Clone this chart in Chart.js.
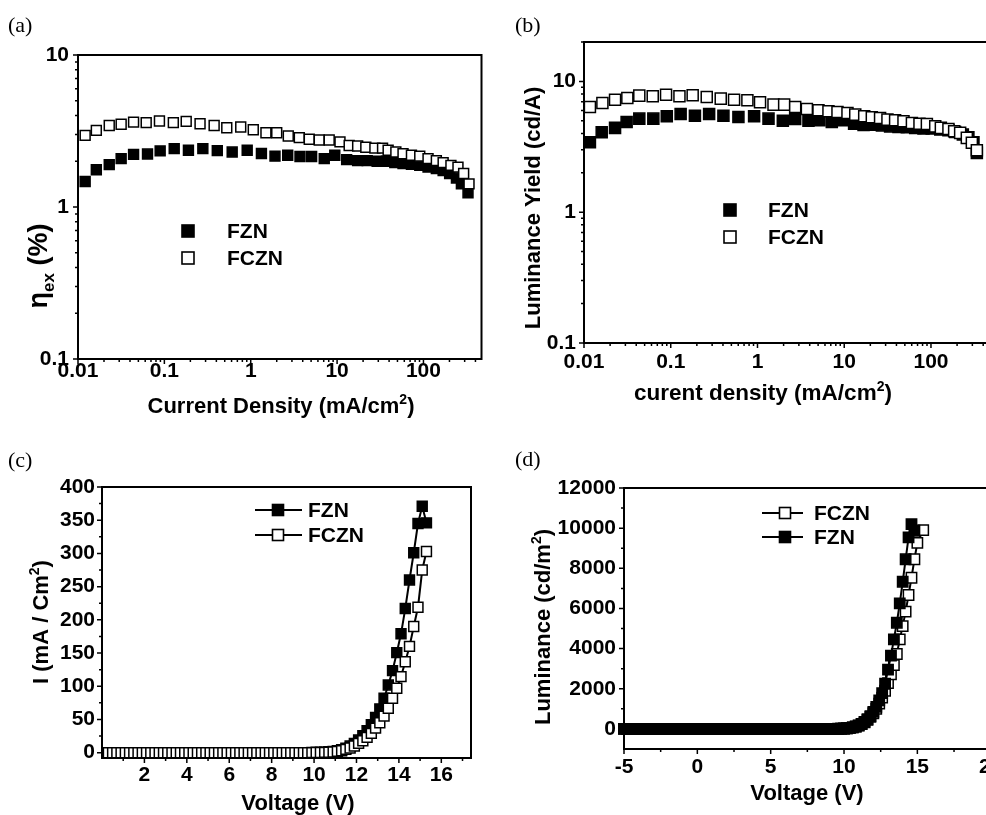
<!DOCTYPE html>
<html>
<head>
<meta charset="utf-8">
<title>FZN / FCZN device characteristics</title>
<script src="https://cdn.jsdelivr.net/npm/chart.js@4.4.1/dist/chart.umd.min.js"></script>
<style>
  html, body { margin: 0; padding: 0; background: #fff; width: 986px; height: 815px; overflow: hidden; }
  body { position: relative; }
  canvas { position: absolute; }
</style>
</head>
<body>
<canvas id="cA" width="490" height="430" style="left:0;top:0"></canvas>
<canvas id="cB" width="520" height="430" style="left:490px;top:0"></canvas>
<canvas id="cC" width="490" height="385" style="left:0;top:430px"></canvas>
<canvas id="cD" width="530" height="385" style="left:490px;top:430px"></canvas>
<script>
// --- series names ---
const seriesNames = ['FZN', 'FCZN'];

// --- (a) external efficiency vs current density ---
const densA_FZN = [0.0121, 0.0163, 0.023, 0.0316, 0.044, 0.0638, 0.0894, 0.13, 0.19, 0.279,
  0.41, 0.61, 0.91, 1.33, 1.91, 2.68, 3.72, 5.07, 7.1, 9.4,
  12.9, 17.3, 22.3, 29.1, 37.3, 46.6, 58, 72.6, 90.6, 113,
  141, 169, 201, 241, 275, 328];
const etaA_FZN = [1.47, 1.76, 1.90, 2.08, 2.22, 2.23, 2.34, 2.42, 2.36, 2.42,
  2.35, 2.30, 2.36, 2.25, 2.16, 2.19, 2.15, 2.15, 2.08, 2.19,
  2.05, 2.02, 2.02, 2.0, 2.0, 1.96, 1.93, 1.91, 1.88, 1.83,
  1.79, 1.74, 1.66, 1.55, 1.42, 1.24];
const densA_FCZN = [0.0121, 0.0163, 0.023, 0.0316, 0.044, 0.0616, 0.0877, 0.127, 0.179, 0.259,
  0.377, 0.528, 0.766, 1.07, 1.5, 2.0, 2.72, 3.65, 4.76, 6.21,
  8.1, 10.8, 13.8, 17.3, 21.5, 27.4, 33.6, 39, 47.9, 58,
  72.6, 90.6, 113, 141, 169, 208, 251, 292, 337];
const etaA_FCZN = [2.96, 3.19, 3.44, 3.50, 3.62, 3.59, 3.68, 3.59, 3.66, 3.53,
  3.44, 3.32, 3.36, 3.22, 3.08, 3.08, 2.93, 2.86, 2.79, 2.76,
  2.76, 2.68, 2.54, 2.52, 2.47, 2.44, 2.44, 2.36, 2.30, 2.24,
  2.19, 2.16, 2.08, 2.02, 1.96, 1.88, 1.83, 1.66, 1.42];

// --- (b) luminance yield vs current density ---
const densB_FZN = [0.0117, 0.016, 0.0228, 0.031, 0.0434, 0.063, 0.09, 0.13, 0.19, 0.277,
  0.405, 0.603, 0.914, 1.34, 1.96, 2.72, 3.87, 5.18, 7.19, 9.8,
  13, 16.7, 21.4, 27.2, 33.8, 42.2, 52.7, 65.8, 82, 102,
  128, 159, 190, 233, 270, 309, 338];
const yieldB_FZN = [3.42, 4.08, 4.41, 4.9, 5.19, 5.19, 5.41, 5.64, 5.47, 5.64,
  5.47, 5.35, 5.41, 5.19, 5.01, 5.16, 5.01, 5.04, 4.9, 5.04,
  4.75, 4.65, 4.67, 4.61, 4.53, 4.48, 4.46, 4.41, 4.36, 4.36,
  4.28, 4.23, 4.11, 3.92, 3.74, 3.42, 2.84];
const densB_FCZN = [0.0117, 0.0163, 0.0228, 0.0316, 0.0434, 0.062, 0.0883, 0.126, 0.179, 0.26,
  0.377, 0.537, 0.765, 1.07, 1.53, 2.03, 2.72, 3.71, 5.05, 6.58,
  8.36, 10.9, 13.4, 17, 20.8, 25.9, 31.5, 38.6, 48.2, 60.3,
  73.7, 89.7, 112, 130, 159, 185, 217, 259, 296, 338];
const yieldB_FCZN = [6.38, 6.84, 7.25, 7.46, 7.78, 7.69, 7.91, 7.69, 7.82, 7.6,
  7.38, 7.25, 7.16, 6.92, 6.64, 6.64, 6.38, 6.15, 6.01, 5.9,
  5.84, 5.74, 5.57, 5.41, 5.31, 5.25, 5.1, 5.04, 4.95, 4.81,
  4.75, 4.73, 4.53, 4.41, 4.33, 4.15, 4.04, 3.7, 3.39, 2.97];

// --- (c) current density vs voltage ---
const voltC = [0.3, 0.5, 0.7, 0.9, 1.1, 1.3, 1.5, 1.7, 1.9, 2.1,
  2.3, 2.5, 2.7, 2.9, 3.1, 3.3, 3.5, 3.7, 3.9, 4.1,
  4.3, 4.5, 4.7, 4.9, 5.1, 5.3, 5.5, 5.7, 5.9, 6.1,
  6.3, 6.5, 6.7, 6.9, 7.1, 7.3, 7.5, 7.7, 7.9, 8.1,
  8.3, 8.5, 8.7, 8.9, 9.1, 9.3, 9.5, 9.7, 9.9, 10.1,
  10.3, 10.5, 10.7, 10.9, 11.1, 11.3, 11.5, 11.7, 11.9, 12.1,
  12.3, 12.5, 12.7, 12.9, 13.1, 13.3, 13.5, 13.7, 13.9, 14.1,
  14.3, 14.5, 14.7, 14.9, 15.1, 15.3];
const curC_FZN = [0, 0, 0, 0, 0, 0, 0, 0, 0, 0,
  0, 0, 0, 0, 0, 0, 0, 0, 0, 0,
  0, 0, 0, 0, 0, 0, 0, 0, 0, 0,
  0, 0, 0, 0, 0, 0, 0, 0, 0, 0,
  0, 0, 0, 0, 0, 0, 0, 0, 0.2, 0.3,
  0.5, 0.8, 1.3, 2, 3, 4.5, 6.6, 10, 14, 19,
  25.6, 33, 42, 53, 66, 82, 102, 123.5, 150.6, 179,
  217, 260, 301, 345, 371, 346];
const curC_FCZN = [0, 0, 0, 0, 0, 0, 0, 0, 0, 0,
  0, 0, 0, 0, 0, 0, 0, 0, 0, 0,
  0, 0, 0, 0, 0, 0, 0, 0, 0, 0,
  0, 0, 0, 0, 0, 0, 0, 0, 0, 0,
  0, 0, 0, 0, 0, 0, 0, 0, 0.1, 0.2,
  0.3, 0.4, 0.6, 1, 2, 3, 5, 7, 10, 14,
  18, 23, 29, 37, 45, 55, 67, 82, 97, 114.5,
  137, 160, 190, 219, 275, 303];

// --- (d) luminance vs voltage ---
const voltD = [-5.0, -4.8, -4.6, -4.4, -4.2, -4.0, -3.8, -3.6, -3.4, -3.2,
  -3.0, -2.8, -2.6, -2.4, -2.2, -2.0, -1.8, -1.6, -1.4, -1.2,
  -1.0, -0.8, -0.6, -0.4, -0.2, 0, 0.2, 0.4, 0.6, 0.8,
  1.0, 1.2, 1.4, 1.6, 1.8, 2.0, 2.2, 2.4, 2.6, 2.8,
  3.0, 3.2, 3.4, 3.6, 3.8, 4.0, 4.2, 4.4, 4.6, 4.8,
  5.0, 5.2, 5.4, 5.6, 5.8, 6.0, 6.2, 6.4, 6.6, 6.8,
  7.0, 7.2, 7.4, 7.6, 7.8, 8.0, 8.2, 8.4, 8.6, 8.8,
  9.0, 9.2, 9.4, 9.6, 9.8, 10.0, 10.2, 10.4, 10.6, 10.8,
  11.0, 11.2, 11.4, 11.6, 11.8, 12.0, 12.2, 12.4, 12.6, 12.8,
  13.0, 13.2, 13.4, 13.6, 13.8, 14.0, 14.2, 14.4, 14.6, 14.8,
  15.0, 15.2, 15.4];
const lumD_FZN = [0, 0, 0, 0, 0, 0, 0, 0, 0, 0,
  0, 0, 0, 0, 0, 0, 0, 0, 0, 0,
  0, 0, 0, 0, 0, 0, 0, 0, 0, 0,
  0, 0, 0, 0, 0, 0, 0, 0, 0, 0,
  0, 0, 0, 0, 0, 0, 0, 0, 0, 0,
  0, 0, 0, 0, 0, 0, 0, 0, 0, 0,
  0, 0, 0, 0, 0, 0, 0, 0, 0, 1,
  1, 2, 4, 7, 12, 20, 33, 52, 80, 120,
  175, 250, 350, 480, 640, 850, 1100, 1420, 1780, 2250,
  2950, 3650, 4460, 5290, 6250, 7330, 8450, 9540, 10200, 9870];
const lumD_FCZN = [0, 0, 0, 0, 0, 0, 0, 0, 0, 0,
  0, 0, 0, 0, 0, 0, 0, 0, 0, 0,
  0, 0, 0, 0, 0, 0, 0, 0, 0, 0,
  0, 0, 0, 0, 0, 0, 0, 0, 0, 0,
  0, 0, 0, 0, 0, 0, 0, 0, 0, 0,
  0, 0, 0, 0, 0, 0, 0, 0, 0, 0,
  0, 0, 0, 0, 0, 0, 0, 0, 0, 0.5,
  1, 2, 3, 6, 11, 18, 30, 48, 75, 112,
  165, 235, 330, 450, 600, 780, 1000, 1260, 1560, 1900,
  2280, 2720, 3180, 3730, 4460, 5120, 5840, 6670, 7530, 8450,
  9270, null, 9905];

// --- tick labels ---
const ticksLogX = [0.01, 0.1, 1, 10, 100];
const ticksLogY = [0.1, 1, 10];
const ticksC_x = [2, 4, 6, 8, 10, 12, 14, 16];
const ticksC_y = [0, 50, 100, 150, 200, 250, 300, 350, 400];
const ticksD_x = [-5, 0, 5, 10, 15, 20];
const ticksD_y = [0, 2000, 4000, 6000, 8000, 10000, 12000];
const minorC_x = [1, 3, 5, 7, 9, 11, 13, 15, 17];
const minorC_y = [25, 75, 125, 175, 225, 275, 325, 375];
const minorD_x = [-2.5, 2.5, 7.5, 12.5, 17.5];
const minorD_y = [1000, 3000, 5000, 7000, 9000, 11000];

const FONT = '"Liberation Sans", Arial, Helvetica, sans-serif';
Chart.defaults.font.family = FONT;
Chart.defaults.color = '#000';
Chart.defaults.animation = false;

// minor ticks of a log axis: 2..9 in each decade inside [lo, hi]
function logMinors(lo, hi) {
  const out = [];
  for (let e = Math.floor(Math.log10(lo)); e <= Math.ceil(Math.log10(hi)); e++) {
    for (let m = 2; m <= 9; m++) {
      const v = m * Math.pow(10, e);
      if (v > lo && v <= hi) out.push(v);
    }
  }
  return out;
}

function zip(xs, ys) {
  return ys.map((y, i) => ({ x: xs[i], y: y })).filter(p => p.y !== null);
}

// text with sub/superscripts, centred on (cx, baseline cy), optionally rotated
function drawRich(ctx, parts, cx, cy, rot, size) {
  ctx.save();
  ctx.translate(cx, cy);
  ctx.rotate(rot);
  ctx.textAlign = 'left';
  ctx.textBaseline = 'alphabetic';
  ctx.fillStyle = '#000';
  let total = 0;
  const m = parts.map(p => {
    const s = p[1] ? Math.round(size * 0.62) : size;
    ctx.font = `bold ${s}px ${FONT}`;
    const w = ctx.measureText(p[0]).width;
    total += w;
    return { t: p[0], k: p[1], s, w };
  });
  let x = -total / 2;
  m.forEach(q => {
    ctx.font = `bold ${q.s}px ${FONT}`;
    const dy = q.k === 'sup' ? -size * 0.42 : (q.k === 'sub' ? size * 0.25 : 0);
    ctx.fillText(q.t, x, dy);
    x += q.w;
  });
  ctx.restore();
}

// per-panel decoration: frame, tick marks, titles, legend, panel tag
const deco = {
  cA: {
    tag: ['(a)', 8, 32],
    xMajor: ticksLogX, xMinor: logMinors(0.01, 470), yMajor: ticksLogY, yMinor: logMinors(0.1, 10),
    xTitle: [[['Current Density (mA/cm'], ['2', 'sup'], [')']], 281, 413, 22],
    yTitle: [[['η'], ['ex', 'sub'], [' (%)']], 47, 266, 27],
    legend: { names: ['FZN', 'FCZN'], fills: [true, false], y: 231, dy: 27, mx: 188, tx: 227, box: 12 }
  },
  cB: {
    tag: ['(b)', 25, 32],
    xMajor: ticksLogX, xMinor: logMinors(0.01, 500), yMajor: ticksLogY, yMinor: logMinors(0.1, 20),
    xTitle: [[['curent density (mA/cm'], ['2', 'sup'], [')']], 273, 400, 22.5],
    yTitle: [[['Luminance Yield (cd/A)']], 50, 208, 22],
    legend: { names: ['FZN', 'FCZN'], fills: [true, false], y: 210, dy: 27, mx: 240, tx: 278, box: 12 }
  },
  cC: {
    tag: ['(c)', 8, 37],
    xMajor: ticksC_x, xMinor: minorC_x, yMajor: ticksC_y, yMinor: minorC_y,
    xTitle: [[['Voltage (V)']], 298, 380, 22],
    yTitle: [[['I (mA / Cm'], ['2', 'sup'], [')']], 48, 192, 22],
    legend: { names: ['FZN', 'FCZN'], fills: [true, false], y: 80, dy: 25, mx: 278, tx: 308, box: 11, x1: 255, x2: 302 }
  },
  cD: {
    tag: ['(d)', 25, 36],
    xMajor: ticksD_x, xMinor: minorD_x, yMajor: ticksD_y, yMinor: minorD_y,
    xTitle: [[['Voltage (V)']], 317, 370, 22],
    yTitle: [[['Luminance (cd/m'], ['2', 'sup'], [')']], 60, 197, 22],
    legend: { names: ['FCZN', 'FZN'], fills: [false, true], y: 83, dy: 24, mx: 295, tx: 324, box: 11, x1: 272, x2: 313 }
  }
};

const panelDeco = {
  id: 'panelDeco',
  afterDatasetsDraw(chart) {
    const d = deco[chart.canvas.id];
    const ctx = chart.ctx, a = chart.chartArea, sx = chart.scales.x, sy = chart.scales.y;
    ctx.save();
    ctx.strokeStyle = '#000';
    ctx.lineWidth = 2;
    ctx.strokeRect(a.left, a.top, a.right - a.left, a.bottom - a.top);
    ctx.beginPath();
    d.xMajor.forEach(v => { const p = sx.getPixelForValue(v); ctx.moveTo(p, a.bottom); ctx.lineTo(p, a.bottom + 5); });
    d.xMinor.forEach(v => { const p = sx.getPixelForValue(v); ctx.moveTo(p, a.bottom); ctx.lineTo(p, a.bottom + 3); });
    d.yMajor.forEach(v => { const p = sy.getPixelForValue(v); ctx.moveTo(a.left, p); ctx.lineTo(a.left - 5, p); });
    d.yMinor.forEach(v => { const p = sy.getPixelForValue(v); ctx.moveTo(a.left, p); ctx.lineTo(a.left - 3, p); });
    ctx.lineWidth = 1.5;
    ctx.stroke();
    ctx.restore();
  },
  afterDraw(chart) {
    const d = deco[chart.canvas.id];
    const ctx = chart.ctx;
    drawRich(ctx, d.xTitle[0], d.xTitle[1], d.xTitle[2], 0, d.xTitle[3]);
    drawRich(ctx, d.yTitle[0], d.yTitle[1], d.yTitle[2], -Math.PI / 2, d.yTitle[3]);

    // legend
    const L = d.legend;
    ctx.save();
    L.names.forEach((name, i) => {
      const y = L.y + i * L.dy;
      if (L.x1 !== undefined) {
        ctx.beginPath();
        ctx.moveTo(L.x1, y); ctx.lineTo(L.x2, y);
        ctx.lineWidth = 2.2; ctx.strokeStyle = '#000'; ctx.stroke();
      }
      ctx.fillStyle = L.fills[i] ? '#000' : '#fff';
      ctx.fillRect(L.mx - L.box / 2, y - L.box / 2, L.box, L.box);
      ctx.lineWidth = 1.6; ctx.strokeStyle = '#000';
      ctx.strokeRect(L.mx - L.box / 2, y - L.box / 2, L.box, L.box);
      ctx.fillStyle = '#000';
      ctx.font = `bold 21px ${FONT}`;
      ctx.textAlign = 'left';
      ctx.textBaseline = 'middle';
      ctx.fillText(name, L.tx, y + 1);
    });
    // panel tag
    ctx.font = '22px "Liberation Serif", "Times New Roman", serif';
    ctx.textBaseline = 'alphabetic';
    ctx.fillText(d.tag[0], d.tag[1], d.tag[2]);
    ctx.restore();
  }
};

function axis(type, min, max, tickVals, pad, isY, size) {
  return {
    type: type, min: min, max: max,
    grid: { display: false, drawTicks: false },
    border: { display: false },
    ticks: {
      color: '#000', padding: pad, autoSkip: false, maxRotation: 0,
      font: { size: 21, weight: 'bold', lineHeight: 1 },
      callback: v => String(v)
    },
    afterBuildTicks: s => { s.ticks = tickVals.map(v => ({ value: v })); },
    afterFit: s => { if (isY) s.width = size; else s.height = size; }
  };
}

function series(label, data, filled, r, order, line) {
  return {
    label: label, data: data, order: order,
    showLine: line, borderColor: '#000', borderWidth: line ? 2 : 0,
    pointStyle: 'rect', pointRadius: r, pointHoverRadius: r,
    pointBackgroundColor: filled ? '#000' : '#fff',
    pointBorderColor: '#000', pointBorderWidth: 1.5,
    clip: false
  };
}

function makeChart(id, datasets, xAx, yAx, padding) {
  return new Chart(document.getElementById(id), {
    type: 'scatter',
    data: { datasets: datasets },
    options: {
      responsive: false,
      animation: false,
      layout: { padding: padding },
      plugins: { legend: { display: false }, tooltip: { enabled: false } },
      scales: { x: xAx, y: yAx }
    },
    plugins: [panelDeco]
  });
}

// (a)
makeChart('cA', [
  series(seriesNames[0], zip(densA_FZN, etaA_FZN), true, 7, 1, false),
  series(seriesNames[1], zip(densA_FCZN, etaA_FCZN), false, 7, 0, false)
], axis('logarithmic', 0.01, 470, ticksLogX, 2, false, 71),
   axis('logarithmic', 0.1, 10, ticksLogY, 9, true, 78),
   { left: 0, top: 55, right: 8, bottom: 0 });

// (b)
makeChart('cB', [
  series(seriesNames[0], zip(densB_FZN, yieldB_FZN), true, 7.8, 1, false),
  series(seriesNames[1], zip(densB_FCZN, yieldB_FCZN), false, 7.8, 0, false)
], axis('logarithmic', 0.01, 500, ticksLogX, 9, false, 87),
   axis('logarithmic', 0.1, 20, ticksLogY, 8, true, 94),
   { left: 0, top: 42, right: 18.4, bottom: 0 });

// (c)
makeChart('cC', [
  series(seriesNames[0], zip(voltC, curC_FZN), true, 7, 1, true),
  series(seriesNames[1], zip(voltC, curC_FCZN), false, 7, 0, true)
], axis('linear', 0, 17.4, ticksC_x, 7, false, 57),
   axis('linear', -8, 400, ticksC_y, 7, true, 102),
   { left: 0, top: 57, right: 19, bottom: 0 });

// (d)
makeChart('cD', [
  series(seriesNames[0], zip(voltD, lumD_FZN), true, 7.3, 0, true),
  series(seriesNames[1], zip(voltD, lumD_FCZN), false, 7.3, 1, true)
], axis('linear', -5, 20, ticksD_x, 8, false, 66),
   axis('linear', -1000, 12000, ticksD_y, 8, true, 134),
   { left: 0, top: 58, right: 29.3, bottom: 0 });
</script>
</body>
</html>
